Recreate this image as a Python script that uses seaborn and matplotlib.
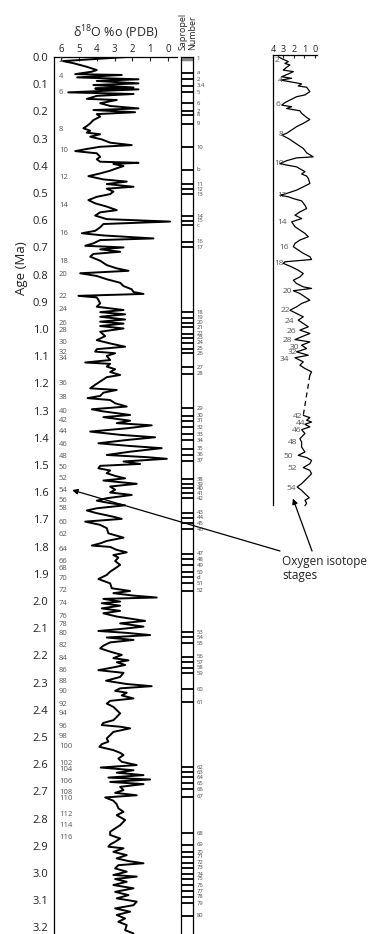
import numpy as np
import pandas as pd
import matplotlib
matplotlib.use("Agg")
import matplotlib.pyplot as plt
import matplotlib.transforms as mtransforms
from matplotlib.ticker import MultipleLocator, FormatStrFormatter
import seaborn as sns

sns.set_theme(style="white")
plt.rcParams["font.family"] = ["Open Sans", "DejaVu Sans"]
plt.rcParams["mathtext.default"] = "regular"

# ---- main d18O record (age in Ma, d18O per mil) ----
age = [0.000, 0.015, 0.023, 0.036, 0.048, 0.054, 0.063, 0.066, 0.075, 0.082,
       0.088, 0.097, 0.103, 0.112, 0.116, 0.119, 0.130, 0.136, 0.143, 0.154,
       0.158, 0.170, 0.180, 0.189, 0.195, 0.203, 0.210, 0.219, 0.232, 0.244,
       0.254, 0.262, 0.271, 0.278, 0.284, 0.293, 0.303, 0.315, 0.324, 0.330,
       0.338, 0.346, 0.354, 0.367, 0.376, 0.385, 0.389, 0.393, 0.401, 0.409,
       0.418, 0.428, 0.438, 0.450, 0.458, 0.467, 0.477, 0.484, 0.495, 0.504,
       0.514, 0.526, 0.538, 0.550, 0.563, 0.571, 0.583, 0.596, 0.605, 0.614,
       0.626, 0.639, 0.648, 0.656, 0.667, 0.673, 0.685, 0.694, 0.700, 0.707,
       0.716, 0.724, 0.734, 0.749, 0.765, 0.777, 0.786, 0.795, 0.805, 0.817,
       0.830, 0.842, 0.854, 0.864, 0.871, 0.878, 0.884, 0.893, 0.906, 0.918,
       0.930, 0.938, 0.946, 0.955, 0.965, 0.973, 0.980, 0.989, 0.998, 1.010,
       1.026, 1.041, 1.053, 1.065, 1.074, 1.083, 1.089, 1.099, 1.114, 1.123,
       1.128, 1.138, 1.148, 1.158, 1.169, 1.177, 1.193, 1.205, 1.218, 1.224,
       1.234, 1.246, 1.254, 1.261, 1.273, 1.285, 1.295, 1.302, 1.316, 1.324,
       1.337, 1.346, 1.354, 1.365, 1.377, 1.389, 1.398, 1.408, 1.420, 1.430,
       1.438, 1.451, 1.463, 1.471, 1.477, 1.487, 1.496, 1.503, 1.512, 1.520,
       1.530, 1.540, 1.549, 1.557, 1.569, 1.579, 1.591, 1.601, 1.610, 1.622,
       1.631, 1.640, 1.648, 1.659, 1.667, 1.677, 1.690, 1.698, 1.708, 1.720,
       1.732, 1.751, 1.767, 1.779, 1.788, 1.796, 1.801, 1.812, 1.821, 1.831,
       1.840, 1.853, 1.867, 1.880, 1.892, 1.904, 1.919, 1.935, 1.953, 1.963,
       1.971, 1.980, 1.987, 1.992, 2.002, 2.008, 2.017, 2.027, 2.036, 2.045,
       2.057, 2.073, 2.082, 2.094, 2.103, 2.110, 2.117, 2.125, 2.134, 2.143,
       2.152, 2.164, 2.174, 2.186, 2.198, 2.210, 2.218, 2.225, 2.235, 2.245,
       2.254, 2.264, 2.279, 2.293, 2.305, 2.313, 2.321, 2.330, 2.337, 2.347,
       2.358, 2.367, 2.377, 2.389, 2.401, 2.413, 2.426, 2.438, 2.448, 2.456,
       2.462, 2.468, 2.481, 2.493, 2.505, 2.517, 2.526, 2.536, 2.548, 2.558,
       2.566, 2.579, 2.591, 2.603, 2.612, 2.622, 2.631, 2.640, 2.649, 2.656,
       2.665, 2.673, 2.683, 2.695, 2.705, 2.714, 2.722, 2.734, 2.747, 2.762,
       2.775, 2.787, 2.805, 2.824, 2.836, 2.848, 2.860, 2.873, 2.885, 2.895,
       2.903, 2.909, 2.922, 2.934, 2.946, 2.956, 2.964, 2.971, 2.983, 2.995,
       3.007, 3.013, 3.022, 3.032, 3.044, 3.056, 3.069, 3.081, 3.093, 3.105,
       3.118, 3.130, 3.142, 3.154, 3.167, 3.179, 3.191, 3.210, 3.222]
d18o = [2.32, 5.90, 5.30, 4.56, 4.00, 4.28, 5.21, 2.60, 5.10, 1.66,
        4.00, 1.66, 4.19, 1.94, 4.09, 1.66, 5.60, 1.94, 4.00, 4.56,
        2.88, 3.81, 3.25, 1.66, 4.19, 1.85, 4.00, 3.81, 4.19, 4.37,
        4.56, 4.75, 4.37, 4.56, 3.81, 4.37, 3.72, 3.25, 2.04, 3.81,
        4.56, 5.21, 4.00, 3.81, 4.00, 3.81, 1.66, 3.07, 2.50, 2.88,
        3.25, 3.81, 4.47, 3.63, 2.32, 3.44, 1.94, 3.44, 3.07, 3.25,
        4.00, 4.47, 4.09, 3.44, 2.88, 3.81, 4.09, 3.44, -0.11, 3.63,
        3.81, 4.09, 4.84, 3.63, 0.82, 3.81, 4.19, 4.65, 2.50, 3.81,
        2.69, 4.19, 4.37, 3.81, 3.44, 2.88, 2.22, 4.93, 4.00, 3.44,
        2.69, 2.50, 2.04, 1.94, 1.38, 5.03, 4.00, 3.91, 3.81, 4.00,
        2.50, 3.81, 2.41, 3.81, 2.41, 3.81, 2.50, 3.81, 2.50, 3.81,
        3.53, 4.00, 3.25, 2.41, 4.00, 4.09, 2.97, 3.44, 3.25, 4.65,
        3.25, 3.44, 2.97, 3.25, 2.69, 3.44, 3.81, 4.09, 4.37, 2.88,
        3.63, 3.81, 4.52, 3.25, 2.97, 2.32, 4.28, 3.72, 2.13, 3.63,
        2.13, 2.88, 0.92, 2.32, 4.37, 2.69, 0.73, 2.32, 3.91, 2.13,
        0.36, 2.13, 3.44, 1.20, 0.07, 2.50, 1.57, 3.81, 3.91, 3.25,
        3.44, 2.97, 2.41, 3.63, 1.76, 3.25, 2.97, 3.25, 2.04, 3.44,
        4.00, 3.25, 2.41, 4.00, 4.56, 4.00, 3.07, 2.60, 4.65, 3.81,
        3.44, 3.35, 2.50, 3.44, 3.81, 4.28, 3.25, 2.88, 2.32, 3.07,
        2.79, 2.97, 2.69, 2.97, 3.25, 3.44, 3.91, 3.25, 3.16, 2.13,
        3.07, 1.94, 0.64, 3.63, 2.69, 3.72, 2.69, 3.72, 2.69, 3.63,
        2.88, 1.29, 2.69, 1.38, 2.69, 3.91, 2.32, 1.01, 3.44, 1.94,
        3.25, 3.63, 3.81, 3.25, 2.60, 3.07, 2.22, 2.88, 2.41, 3.16,
        3.91, 2.50, 2.69, 3.48, 2.32, 0.92, 2.69, 2.97, 2.32, 2.60,
        1.94, 3.25, 3.44, 3.07, 2.88, 2.69, 2.88, 3.07, 3.63, 3.72,
        2.69, 2.13, 3.07, 3.25, 3.44, 3.35, 3.72, 3.85, 3.07, 2.69,
        2.50, 2.79, 2.60, 1.76, 3.78, 1.94, 2.88, 1.38, 3.35, 1.01,
        3.25, 1.38, 2.69, 2.50, 2.97, 1.76, 3.53, 3.07, 2.88, 2.79,
        2.50, 2.88, 2.41, 2.69, 2.97, 3.25, 3.25, 2.69, 2.97, 3.25,
        3.35, 2.50, 3.07, 2.32, 2.88, 2.22, 1.38, 2.79, 2.97, 2.32,
        3.07, 1.76, 2.97, 2.32, 3.07, 1.94, 2.97, 2.22, 2.88, 1.76,
        1.94, 2.97, 2.13, 2.88, 2.41, 2.79, 2.32, 2.41, 1.94]

# oxygen isotope stages on the main record
stage_ages = [0.014, 0.071, 0.130, 0.265, 0.344, 0.442, 0.547, 0.648, 0.751, 0.799,
              0.879, 0.930, 0.980, 1.005, 1.050, 1.086, 1.110, 1.202, 1.251, 1.303,
              1.336, 1.375, 1.424, 1.468, 1.508, 1.548, 1.592, 1.629, 1.659, 1.710,
              1.755, 1.809, 1.855, 1.882, 1.917, 1.963, 2.009, 2.058, 2.088, 2.121,
              2.162, 2.211, 2.255, 2.297, 2.331, 2.382, 2.415, 2.460, 2.497, 2.536,
              2.597, 2.619, 2.665, 2.705, 2.725, 2.783, 2.826, 2.870]
stage_labels = ["2", "4", "6", "8", "10", "12", "14", "16", "18", "20",
                "22", "24", "26", "28", "30", "32", "34", "36", "38", "40",
                "42", "44", "46", "48", "50", "52", "54", "56", "58", "60",
                "62", "64", "66", "68", "70", "72", "74", "76", "78", "80",
                "82", "84", "86", "88", "90", "92", "94", "96", "98", "100",
                "102", "104", "106", "108", "110", "112", "114", "116"]

# sapropels
sap_ages = [0.006, 0.058, 0.082, 0.105, 0.130, 0.170, 0.199, 0.213, 0.246, 0.332,
            0.415, 0.468, 0.486, 0.505, 0.585, 0.602, 0.619, 0.679, 0.700, 0.939,
            0.958, 0.977, 0.994, 1.018, 1.032, 1.050, 1.072, 1.089, 1.141, 1.165,
            1.292, 1.319, 1.337, 1.362, 1.386, 1.408, 1.441, 1.462, 1.484, 1.553,
            1.571, 1.586, 1.604, 1.622, 1.675, 1.694, 1.714, 1.736, 1.827, 1.847,
            1.868, 1.895, 1.913, 1.935, 1.962, 2.115, 2.133, 2.156, 2.205, 2.225,
            2.245, 2.266, 2.325, 2.372, 2.611, 2.630, 2.648, 2.670, 2.692, 2.719,
            2.854, 2.895, 2.924, 2.940, 2.962, 2.980, 3.005, 3.020, 3.044, 3.066,
            3.087, 3.111, 3.157]
sap_labels = ["1", "a", "2", "3,4", "5", "6", "7", "8", "9", "10",
              "b", "11", "12", "13", "14", "15", "c", "16", "17", "18",
              "19", "20", "21", "22", "23", "24", "25", "26", "27", "28",
              "29", "30", "31", "32", "33", "34", "35", "36", "37", "38",
              "39", "40", "41", "42", "43", "44", "45", "46", "47", "48",
              "49", "50", "d", "51", "52", "53", "54", "55", "56", "57",
              "58", "59", "60", "61", "62", "63", "64", "65", "66", "67",
              "68", "69", "70", "71", "72", "73", "74", "75", "76", "77",
              "78", "79", "80"]

# ---- right-hand record (two segments with a gap) ----
r_age1 = [0.007, 0.017, 0.026, 0.033, 0.039, 0.048, 0.059, 0.065, 0.074, 0.085,
          0.091, 0.098, 0.108, 0.113, 0.121, 0.126, 0.143, 0.156, 0.163, 0.176,
          0.186, 0.196, 0.202, 0.209, 0.218, 0.228, 0.244, 0.252, 0.267, 0.280,
          0.293, 0.306, 0.313, 0.326, 0.339, 0.352, 0.365, 0.382, 0.398, 0.402,
          0.413, 0.424, 0.430, 0.437, 0.456, 0.465, 0.473, 0.482, 0.502, 0.515,
          0.528, 0.541, 0.548, 0.554, 0.561, 0.570, 0.587, 0.600, 0.613, 0.626,
          0.639, 0.652, 0.671, 0.684, 0.697, 0.710, 0.723, 0.736, 0.749, 0.762,
          0.775, 0.788, 0.799, 0.808, 0.814, 0.828, 0.841, 0.854, 0.867, 0.880,
          0.893, 0.906, 0.912, 0.921, 0.932, 0.945, 0.958, 0.971, 0.984, 0.997,
          1.010, 1.023, 1.036, 1.049, 1.062, 1.075, 1.088, 1.101, 1.112, 1.121,
          1.134, 1.147, 1.160, 1.173, 1.183, 1.199, 1.212, 1.225, 1.238, 1.251]
r_d1 = [3.49, 3.02, 2.54, 2.86, 2.38, 2.70, 3.02, 2.06, 2.54, 3.17,
        2.22, 3.27, 1.90, 1.27, 1.59, 0.79, 0.48, 0.95, 1.75, 2.38,
        2.86, 3.17, 2.22, 2.70, 1.43, 1.27, 0.79, 0.48, 1.11, 1.75,
        2.22, 2.70, 3.17, 2.54, 2.06, 1.59, 1.11, 0.79, 0.16, 1.75,
        2.70, 3.33, 2.70, 1.75, 0.95, 1.27, 0.79, 0.63, 0.48, 1.11,
        1.75, 2.70, 3.33, 2.54, 2.06, 1.27, 0.95, 0.79, 1.43, 1.90,
        1.27, 2.22, 1.90, 1.43, 0.95, 0.63, 1.43, 1.90, 2.06, 1.59,
        1.11, 0.48, 0.32, 2.86, 3.02, 2.22, 1.59, 1.11, 1.43, 2.06,
        1.75, 1.11, 0.32, 2.06, 1.43, 0.95, 0.48, 1.27, 1.75, 2.38,
        1.75, 1.11, 1.59, 1.11, 0.63, 1.43, 0.48, 1.27, 1.90, 0.48,
        1.27, 0.79, 1.75, 0.63, 1.90, 1.11, 1.43, 0.95, 0.32, 0.48]
r_age2 = [1.408, 1.417, 1.427, 1.434, 1.443, 1.453, 1.464, 1.479, 1.499, 1.512,
          1.532, 1.551, 1.564, 1.573, 1.584, 1.597, 1.612, 1.623, 1.636, 1.649,
          1.662, 1.675, 1.688, 1.701, 1.714, 1.730, 1.740, 1.751, 1.761]
r_d2 = [1.11, 0.48, 0.79, 0.32, 0.95, 0.48, 1.27, 0.95, 1.43, 1.27,
        1.27, 0.95, 1.59, 0.79, 0.32, 0.48, 1.11, 0.48, 0.32, 0.63,
        0.95, 1.27, 1.69, 1.27, 0.95, 0.54, 0.95, 0.79, 0.95]

r_stage_ages = [0.022, 0.098, 0.192, 0.309, 0.424, 0.548, 0.656, 0.752, 0.815, 0.926,
                1.000, 1.040, 1.082, 1.117, 1.141, 1.164, 1.190, 1.412, 1.440, 1.467,
                1.516, 1.567, 1.615, 1.695]
r_stage_labels = ["2", "4", "6", "8", "10", "12", "14", "16", "18", "20",
                  "22", "24", "26", "28", "30", "32", "34", "42", "44", "46",
                  "48", "50", "52", "54"]
r_stage_x = [3.43, 3.10, 3.29, 3.05, 2.95, 2.73, 2.64, 2.48, 2.95, 2.16,
             2.41, 2.00, 1.78, 2.16, 1.46, 1.69, 2.48, 1.21, 0.89, 1.30,
             1.69, 2.07, 1.69, 1.78]

# ---- layout in pixels of the 380x934 canvas ----
W, H = 380, 934


def px(x0, y0, x1, y1):
    return [x0 / W, 1 - y1 / H, (x1 - x0) / W, (y1 - y0) / H]


fig = plt.figure(figsize=(3.8, 9.34), dpi=100)
grey = "#555555"

# main panel
ax = fig.add_axes(px(54, 57, 177, 934))
ax.patch.set_alpha(0)
sns.lineplot(x=d18o, y=age, sort=False, estimator=None, color="black",
             lw=1.4, ax=ax)
ax.set_xlim(6.4, -0.5)
ax.set_ylim(3.224, 0)
ax.xaxis.tick_top()
ax.set_xticks([6, 5, 4, 3, 2, 1, 0])
ax.tick_params(axis="x", direction="in", length=3, width=0.8, labelsize=7,
               pad=1.5, colors="#222222")
ax.yaxis.set_major_locator(MultipleLocator(0.1))
ax.yaxis.set_major_formatter(FormatStrFormatter("%.1f"))
ax.tick_params(axis="y", which="major", direction="out", length=2.5, width=0.8,
               labelsize=8, pad=1.5, colors="#222222")
ax.set_yticks(stage_ages, minor=True)
ax.tick_params(axis="y", which="minor", direction="in", length=3, width=0.6,
               color=grey)
for s in ["right", "bottom"]:
    ax.spines[s].set_visible(False)
for s in ["left", "top"]:
    ax.spines[s].set_color("black")
    ax.spines[s].set_linewidth(0.9)
blend = mtransforms.blended_transform_factory(ax.transAxes, ax.transData)
for a, lab in zip(stage_ages, stage_labels):
    ax.text(0.04, a, lab, transform=blend, fontsize=5.5, color=grey,
            ha="left", va="center")
ax.set_xlabel("")
ax.set_ylabel("")

# sapropel column
sax = fig.add_axes(px(181, 57, 193, 934))
sax.patch.set_alpha(0)
sax.set_xlim(0, 1)
sax.set_ylim(3.224, 0)
sax.hlines(sap_ages[1:], 0, 1, color="black", lw=1.3)
sax.hlines(sap_ages[:1], 0, 1, color="#888888", lw=2.5)
sax.set_xticks([])
sax.set_yticks([])
sax.spines["bottom"].set_visible(False)
for s in ["left", "right", "top"]:
    sax.spines[s].set_color("black")
    sax.spines[s].set_linewidth(0.9)
sblend = mtransforms.blended_transform_factory(sax.transAxes, sax.transData)
for a, lab in zip(sap_ages, sap_labels):
    sax.text(1.3, a, lab, transform=sblend, fontsize=4.2, color="#444444",
             ha="left", va="center")

# right panel
rax = fig.add_axes(px(273, 55, 317, 508))
rax.patch.set_alpha(0)
sns.lineplot(x=r_d1, y=r_age1, sort=False, estimator=None, color="black",
             lw=0.9, ax=rax)
sns.lineplot(x=r_d2, y=r_age2, sort=False, estimator=None, color="black",
             lw=0.9, ax=rax)
rax.plot([r_d1[-1], r_d2[0]], [r_age1[-1], r_age2[0]], color="black", lw=0.9,
         ls=(0, (4, 3)))
rax.set_xlim(4, -0.2)
rax.set_ylim(1.77, 0)
rax.xaxis.tick_top()
rax.set_xticks([4, 3, 2, 1, 0])
rax.tick_params(axis="x", direction="in", length=2.5, width=0.8, labelsize=6.5,
                pad=1, colors="#222222")
rax.yaxis.set_major_locator(MultipleLocator(0.05))
rax.tick_params(axis="y", direction="out", length=3, width=0.8,
                labelleft=False, colors="#222222")
rax.spines["left"].set_bounds(0, 1.76)
for s in ["right", "bottom"]:
    rax.spines[s].set_visible(False)
for s in ["left", "top"]:
    rax.spines[s].set_color("black")
    rax.spines[s].set_linewidth(0.9)
for a, lab, xx in zip(r_stage_ages, r_stage_labels, r_stage_x):
    rax.text(xx, a, lab, fontsize=6, color=grey, ha="right", va="center")
rax.set_xlabel("")
rax.set_ylabel("")

# arrows and labels
arrow = dict(arrowstyle="-|>", color="black", lw=0.9, mutation_scale=8,
             shrinkA=0, shrinkB=0)
ax.annotate("", xy=(5.38, 1.592), xycoords="data",
            xytext=(280 / W, 1 - 551 / H), textcoords="figure fraction",
            arrowprops=arrow, annotation_clip=False)
rax.annotate("", xy=(2.1, 1.733), xycoords="data",
             xytext=(312 / W, 1 - 551 / H), textcoords="figure fraction",
             arrowprops=arrow, annotation_clip=False)
fig.text(282 / W, 1 - 555 / H, "Oxygen isotope\nstages", ha="left", va="top",
         fontsize=8.5, color="#222222", linespacing=1.15)

fig.text(116 / W, 1 - 33 / H, "δ$^{18}$O %o (PDB)", ha="center", va="center",
         fontsize=9, color="#222222")
fig.text(22 / W, 1 - 268 / H, "Age (Ma)", rotation=90, ha="center",
         va="center", fontsize=9.5, color="#222222")
fig.text(188 / W, 1 - 50 / H, "Sapropel\nNumber", rotation=90, ha="center",
         va="bottom", multialignment="left", fontsize=6.5, color="#222222",
         linespacing=1.0)

fig.savefig("out.png", dpi=100)
